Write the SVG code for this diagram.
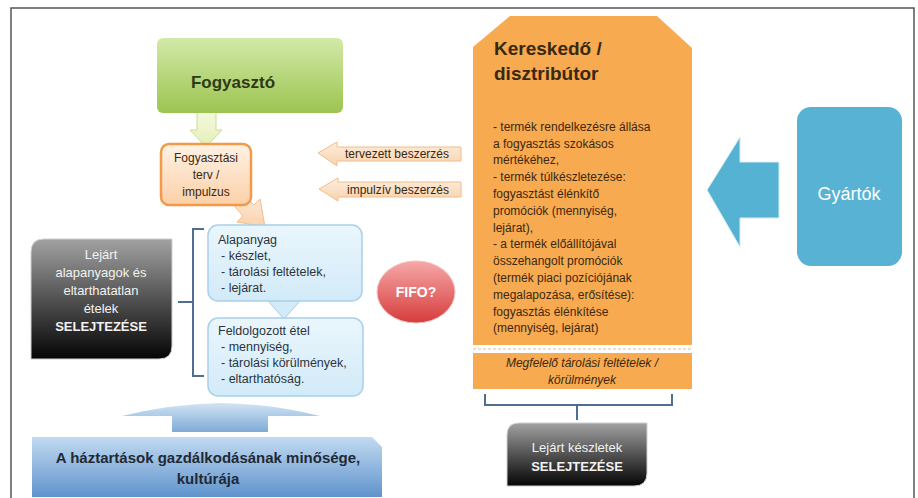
<svg xmlns="http://www.w3.org/2000/svg" width="918" height="498" viewBox="0 0 918 498">
<defs>
<linearGradient id="gGreen" x1="0" y1="0" x2="0" y2="1"><stop offset="0" stop-color="#d3e9a8"/><stop offset="1" stop-color="#9cc450"/></linearGradient>
<linearGradient id="gPeach" x1="0" y1="0" x2="0" y2="1"><stop offset="0" stop-color="#fff2e4"/><stop offset="1" stop-color="#fbd0a8"/></linearGradient>
<linearGradient id="gPeachArrow" x1="0" y1="0" x2="0" y2="1"><stop offset="0" stop-color="#fdeede"/><stop offset="1" stop-color="#f9d2ac"/></linearGradient>
<linearGradient id="gLightBlue" x1="0" y1="0" x2="0" y2="1"><stop offset="0" stop-color="#eaf6fd"/><stop offset="1" stop-color="#d2eaf8"/></linearGradient>
<linearGradient id="gDark" x1="0" y1="0" x2="0" y2="1"><stop offset="0" stop-color="#a2a2a2"/><stop offset="0.55" stop-color="#4a4a4a"/><stop offset="1" stop-color="#050505"/></linearGradient>
<linearGradient id="gRed" x1="0" y1="0" x2="0" y2="1"><stop offset="0" stop-color="#f6a8a8"/><stop offset="1" stop-color="#d63c3c"/></linearGradient>
<linearGradient id="gBar" x1="0" y1="0" x2="0" y2="1"><stop offset="0" stop-color="#c2daf1"/><stop offset="1" stop-color="#5f93cc"/></linearGradient>
<linearGradient id="gUp" x1="0" y1="0" x2="0" y2="1"><stop offset="0" stop-color="#d2e4f4"/><stop offset="1" stop-color="#7eaad6"/></linearGradient>
<linearGradient id="gYG" x1="0" y1="0" x2="0" y2="1"><stop offset="0" stop-color="#f4f9dc"/><stop offset="1" stop-color="#e4efb8"/></linearGradient>
</defs>
<style>
text{font-family:"Liberation Sans",Arial,sans-serif}
.body{font-size:12px;fill:#3a2810}
.blue{font-size:12.5px;fill:#2a3440}
.white{fill:#f2f2f2;font-size:13px;text-anchor:middle}
.bracket{fill:none;stroke:#4f6f92;stroke-width:2}
.peach{fill:url(#gPeachArrow);stroke:#f2bc8c;stroke-width:1}
</style>
<rect x="0" y="0" width="918" height="498" fill="#ffffff"/>
<path d="M11 498 V8 H914 V498" fill="none" stroke="#555" stroke-width="1.5"/>

<g id="connectors">
  <path d="M197 112 H216 V130 H222 L206 147 L190 130 H197 Z" fill="url(#gYG)" stroke="#cadd98" stroke-width="1"/>
  <path d="M230 201 L240 191 L254 205 L260 199 L265 227 L237 222 L243 216 Z" fill="url(#gPeachArrow)" stroke="#f2bc8c" stroke-width="1"/>
  <path d="M277 281 H292 V301 H300 L284 319 L268 301 H277 Z" fill="#d3ebf9" stroke="#a6cfe9" stroke-width="1"/>
  <path d="M122 416 Q170 404 221 403 Q272 404 320 416 H268 V432 H172 V416 Z" fill="url(#gUp)"/>
  <path d="M707 190 L740 137 V162 H779 V218 H740 V247 Z" fill="#55b2d3" stroke="#d8eef6" stroke-width="1"/>
  <path class="bracket" d="M204 229 H193 V376 H204 M193 302 H178"/>
  <path class="bracket" d="M485 394 V405 H672 V394 M577 405 V420"/>
</g>

<g id="fogyaszto">
  <rect x="157" y="38" width="186" height="75" rx="6" fill="url(#gGreen)"/>
  <text x="233" y="88" text-anchor="middle" font-size="17" font-weight="bold" fill="#2d3a16">Fogyasztó</text>
</g>

<g id="terv">
  <rect x="161" y="144" width="90" height="61" rx="8" fill="url(#gPeach)" stroke="#f29a48" stroke-width="2.5"/>
  <text x="206" y="162" text-anchor="middle" font-size="12" fill="#3a2810">Fogyasztási</text>
  <text x="206" y="179" text-anchor="middle" font-size="12" fill="#3a2810">terv /</text>
  <text x="206" y="196" text-anchor="middle" font-size="12" fill="#3a2810">impulzus</text>
</g>

<g id="tervezett">
  <path class="peach" d="M318 153 L337 142 V147 H461 V161 H337 V166 Z"/>
  <text x="397" y="158" text-anchor="middle" font-size="12" fill="#3a2810">tervezett beszerzés</text>
</g>
<g id="impulziv">
  <path class="peach" d="M319 189 L338 178 V182 H461 V197 H338 V201 Z"/>
  <text x="398" y="194" text-anchor="middle" font-size="12" fill="#3a2810">impulzív beszerzés</text>
</g>

<g id="alapanyag">
  <rect x="208" y="225" width="154" height="76" rx="10" fill="url(#gLightBlue)" stroke="#a8d0ea" stroke-width="1.5"/>
  <text class="blue" x="218" y="244">Alapanyag</text>
  <text class="blue" x="221" y="260">- készlet,</text>
  <text class="blue" x="221" y="276">- tárolási feltételek,</text>
  <text class="blue" x="221" y="292">- lejárat.</text>
</g>

<g id="feldolgozott">
  <rect x="208" y="318" width="155" height="78" rx="10" fill="url(#gLightBlue)" stroke="#a8d0ea" stroke-width="1.5"/>
  <text class="blue" x="218" y="335">Feldolgozott étel</text>
  <text class="blue" x="221" y="351">- mennyiség,</text>
  <text class="blue" x="221" y="367">- tárolási körülmények,</text>
  <text class="blue" x="221" y="383">- eltarthatóság.</text>
</g>

<g id="selejt1">
  <path d="M44 239 H172 V346 Q172 359 159 359 H31 V252 Q31 239 44 239 Z" fill="url(#gDark)" stroke="#d0d0d0" stroke-width="1"/>
  <text class="white" x="101" y="259">Lejárt</text>
  <text class="white" x="101" y="277">alapanyagok és</text>
  <text class="white" x="101" y="295">eltarthatatlan</text>
  <text class="white" x="101" y="313">ételek</text>
  <text class="white" x="101" y="331" font-weight="bold">SELEJTEZÉSE</text>
</g>

<g id="fifo">
  <ellipse cx="416" cy="292" rx="39" ry="31" fill="url(#gRed)" stroke="#f3c0c0" stroke-width="1"/>
  <text x="416" y="297" text-anchor="middle" font-size="14" font-weight="bold" fill="#ffffff">FIFO?</text>
</g>

<g id="haztartas">
  <path d="M32 437 H372 L382 447 V497 H32 Z" fill="url(#gBar)"/>
  <text x="208" y="463" text-anchor="middle" font-size="15" font-weight="bold" fill="#1f2a36">A háztartások gazdálkodásának minősége,</text>
  <text x="208" y="484" text-anchor="middle" font-size="15" font-weight="bold" fill="#1f2a36">kultúrája</text>
</g>

<g id="kereskedo">
  <path d="M510 16 H657 L692 48 V345 H473 V47 Z" fill="#f8aa50"/>
  <line x1="473" y1="349" x2="692" y2="349" stroke="#e8e0d6" stroke-width="2" stroke-dasharray="3 2"/>
  <rect x="473" y="353" width="219" height="36" fill="#f8aa50"/>
  <text x="494" y="55" font-size="19" font-weight="bold" fill="#3a2810">Kereskedő /</text>
  <text x="494" y="80" font-size="19" font-weight="bold" fill="#3a2810">disztribútor</text>
  <text class="body" x="493" y="131">- termék rendelkezésre állása</text>
  <text class="body" x="493" y="148">a fogyasztás szokásos</text>
  <text class="body" x="493" y="164">mértékéhez,</text>
  <text class="body" x="493" y="181"> - termék túlkészletezése:</text>
  <text class="body" x="493" y="198">fogyasztást élénkítő</text>
  <text class="body" x="493" y="215">promóciók (mennyiség,</text>
  <text class="body" x="493" y="232">lejárat),</text>
  <text class="body" x="493" y="248"> - a termék előállítójával</text>
  <text class="body" x="493" y="265">összehangolt promóciók</text>
  <text class="body" x="493" y="282">(termék piaci pozíciójának</text>
  <text class="body" x="493" y="299">megalapozása, erősítése):</text>
  <text class="body" x="493" y="316">fogyasztás élénkítése</text>
  <text class="body" x="493" y="332">(mennyiség, lejárat)</text>
  <text x="582" y="367" text-anchor="middle" font-size="12" font-style="italic" fill="#3a2810">Megfelelő tárolási feltételek /</text>
  <text x="582" y="384" text-anchor="middle" font-size="12" font-style="italic" fill="#3a2810">körülmények</text>
</g>

<g id="selejt2">
  <path d="M519 423 H647 V473 Q647 486 634 486 H507 V435 Q507 423 519 423 Z" fill="url(#gDark)" stroke="#d0d0d0" stroke-width="1"/>
  <text class="white" x="577" y="452" font-size="13.5">Lejárt készletek</text>
  <text class="white" x="577" y="471" font-weight="bold" font-size="12.5">SELEJTEZÉSE</text>
</g>

<g id="gyartok">
  <rect x="797" y="107" width="105" height="159" rx="14" fill="#58b2d4"/>
  <text x="849" y="200" text-anchor="middle" font-size="18" fill="#ffffff">Gyártók</text>
</g>
</svg>
